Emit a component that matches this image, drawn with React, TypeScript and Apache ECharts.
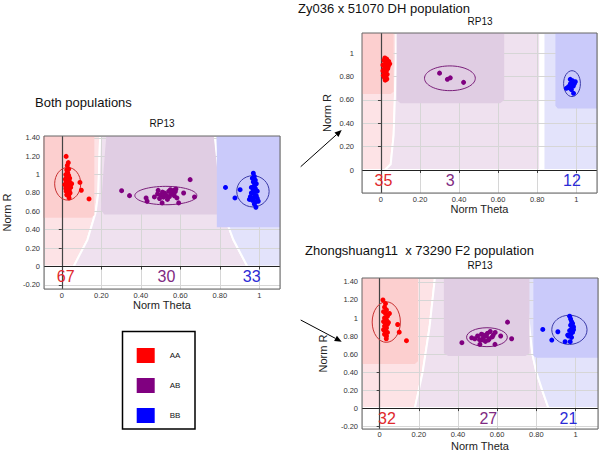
import React, { useEffect, useRef } from "react";
import * as echarts from "echarts";

const GENOTYPES = ["AA", "AB", "BB"];
const DOT_COLORS = ["#ff0000", "#800080", "#0000ff"];
const COUNT_COLORS = ["#e0282c", "#7f2a82", "#2b2bd6"];
const ELLIPSE_COLORS = ["#c83030", "#7a1f7a", "#3a3aa8"];
const FONT = "'Liberation Sans', Arial, sans-serif";

// ---- Both populations ----
const bothAA = [
  [0.022, 1.198], [0.033, 1.13], [0.028, 1.1], [0.035, 1.06], [0.025, 1.05], [0.03, 1.02], [0.02, 1.0],
  [0.035, 0.99], [0.025, 0.97], [0.04, 0.96], [0.018, 0.95], [0.03, 0.94], [0.022, 0.92], [0.04, 0.92],
  [0.028, 0.9], [0.015, 0.89], [0.035, 0.88], [0.025, 0.87], [0.045, 0.86], [0.02, 0.85], [0.03, 0.84],
  [0.038, 0.83], [0.022, 0.82], [0.03, 0.8], [0.042, 0.8], [0.025, 0.78], [0.035, 0.77], [0.037, 0.746],
  [0.092, 0.915], [0.099, 0.83], [0.138, 0.735], [0.05, 0.9],
];
const bothAB = [
  [0.303, 0.825], [0.343, 0.771], [0.427, 0.746], [0.432, 0.71], [0.469, 0.757], [0.488, 0.829],
  [0.508, 0.692], [0.519, 0.8], [0.532, 0.764], [0.541, 0.818], [0.553, 0.789], [0.566, 0.829],
  [0.578, 0.843], [0.583, 0.746], [0.592, 0.692], [0.65, 0.945], [0.672, 0.757], [0.5, 0.78],
  [0.51, 0.81], [0.525, 0.785], [0.545, 0.76], [0.56, 0.8], [0.57, 0.77], [0.495, 0.74], [0.535, 0.73],
  [0.55, 0.835], [0.515, 0.755], [0.575, 0.815], [0.485, 0.79], [0.617, 0.8],
];
const bothBB = [
  [0.829, 0.86], [0.877, 0.746], [0.903, 0.836], [0.97, 1.015], [0.975, 0.98], [0.965, 0.96], [0.98, 0.94],
  [0.97, 0.92], [0.985, 0.9], [0.975, 0.88], [0.96, 0.86], [0.98, 0.85], [0.97, 0.83], [0.99, 0.82],
  [0.96, 0.8], [0.975, 0.79], [0.985, 0.77], [0.955, 0.76], [0.97, 0.745], [0.99, 0.74], [0.965, 0.72],
  [0.98, 0.7], [0.995, 0.71], [0.975, 0.68], [0.983, 0.645], [0.95, 0.73],
];
const bothCounts = [67, 30, 33];
// [cx, cy, rx, ry, genotype index]
const bothEllipses = [
  [0.03, 0.9, 0.066, 0.178, 0],
  [0.527, 0.772, 0.157, 0.1, 1],
  [0.968, 0.818, 0.082, 0.17, 2],
];

// ---- Zy036 x 51070 DH population ----
const dhAA = [
  [0.02, 0.96], [0.03, 0.95], [0.015, 0.94], [0.04, 0.93], [0.025, 0.92], [0.045, 0.91], [0.01, 0.9],
  [0.03, 0.9], [0.02, 0.88], [0.035, 0.87], [0.015, 0.86], [0.028, 0.85], [0.02, 0.83], [0.032, 0.82],
  [0.012, 0.81], [0.025, 0.8], [0.018, 0.79], [0.03, 0.78], [0.022, 0.77], [0.038, 0.89], [0.01, 0.85],
];
const dhAB = [[0.3, 0.83], [0.34, 0.777], [0.355, 0.79], [0.423, 0.751]];
const dhBB = [
  [0.969, 0.777], [0.995, 0.757], [0.949, 0.7], [0.978, 0.73], [0.986, 0.657], [0.97, 0.74],
  [0.985, 0.72], [0.965, 0.705], [0.98, 0.765], [0.96, 0.715], [0.99, 0.74], [0.975, 0.69],
];
const dhCounts = [35, 3, 12];
const dhEllipses = [
  [0.353, 0.786, 0.13, 0.106, 1],
  [0.978, 0.74, 0.043, 0.111, 2],
];

// ---- Zhongshuang11 x 73290 F2 population ----
const f2AA = [
  [0.017, 1.2], [0.03, 1.16], [0.025, 1.12], [0.035, 1.09], [0.02, 1.07], [0.03, 1.05], [0.04, 1.02],
  [0.025, 1.0], [0.035, 0.98], [0.02, 0.96], [0.03, 0.94], [0.04, 0.93], [0.025, 0.91], [0.035, 0.89],
  [0.02, 0.87], [0.03, 0.85], [0.04, 0.84], [0.025, 0.82], [0.035, 0.8], [0.034, 0.77], [0.092, 0.928],
  [0.1, 0.843], [0.137, 0.748], [0.05, 1.05], [0.045, 0.95],
];
const f2AB = [
  [0.42, 0.726], [0.653, 0.954], [0.674, 0.77], [0.618, 0.8], [0.589, 0.707], [0.486, 0.77], [0.5, 0.8],
  [0.51, 0.76], [0.52, 0.82], [0.53, 0.78], [0.54, 0.74], [0.545, 0.8], [0.55, 0.83], [0.56, 0.77],
  [0.565, 0.85], [0.575, 0.79], [0.58, 0.81], [0.59, 0.84], [0.512, 0.707], [0.52, 0.755], [0.555, 0.755],
  [0.47, 0.78], [0.53, 0.81],
];
const f2BB = [
  [0.833, 0.873], [0.91, 0.847], [0.879, 0.755], [0.947, 0.737], [0.973, 0.737], [0.97, 1.02], [0.975, 0.99],
  [0.98, 0.96], [0.985, 0.94], [0.975, 0.92], [0.99, 0.9], [0.98, 0.88], [0.97, 0.86], [0.985, 0.84],
  [0.975, 0.82], [0.965, 0.8], [0.98, 0.785], [0.99, 0.87], [0.96, 0.81],
];
const f2Counts = [32, 27, 21];
const f2Ellipses = [
  [0.034, 0.955, 0.072, 0.225, 0],
  [0.548, 0.787, 0.104, 0.105, 1],
  [0.969, 0.869, 0.09, 0.162, 2],
];

// Cluster-call regions (Norm Theta, Norm R outlines)
const PALE = ["#fde3e6", "#efe1ef", "#e3e3fb"];
const DARK = ["#fccfcf", "#e0cde3", "#cacafa"];

const bothPale = [
  [[-0.3, 0], [0.06, 0], [0.13, 0.29], [0.171, 0.585], [0.185, 0.8], [0.197, 1.6], [-0.3, 1.6]],
  [[0.06, 0], [0.94, 0], [0.869, 0.29], [0.818, 0.585], [0.8, 0.8], [0.768, 1.6], [0.197, 1.6], [0.185, 0.8], [0.171, 0.585], [0.13, 0.29]],
  [[0.94, 0], [1.3, 0], [1.3, 1.6], [0.768, 1.6], [0.8, 0.8], [0.818, 0.585], [0.869, 0.29]],
];
const bothDark = [
  [[-0.3, 0.53], [0.15, 0.53], [0.165, 0.56], [0.165, 1.6], [-0.3, 1.6]],
  [[0.232, 1.6], [0.21, 1.0], [0.198, 0.62], [0.215, 0.565], [0.795, 0.565], [0.812, 0.6], [0.79, 1.0], [0.76, 1.6]],
  [[0.785, 0.427], [1.3, 0.427], [1.3, 1.6], [0.785, 1.6]],
];
const dhPale = [
  [[-0.3, 0], [0.02, 0], [0.05, 0.05], [0.065, 0.3], [0.075, 0.8], [0.082, 1.3], [-0.3, 1.3]],
  [[0.02, 0], [0.815, 0], [0.815, 1.3], [0.082, 1.3], [0.075, 0.8], [0.065, 0.3], [0.05, 0.05]],
  [[0.832, 0], [1.3, 0], [1.3, 1.3], [0.832, 1.3]],
];
const dhDark = [
  [[-0.3, 0.651], [0.05, 0.651], [0.065, 0.67], [0.065, 1.3], [-0.3, 1.3]],
  [[0.08, 1.3], [0.08, 0.6], [0.1, 0.571], [0.61, 0.571], [0.631, 0.6], [0.631, 1.3]],
  [[0.893, 1.3], [0.893, 0.55], [0.905, 0.528], [1.3, 0.528], [1.3, 1.3]],
];
const f2Pale = [
  [[-0.3, 0], [0.18, 0], [0.22, 0.4], [0.255, 0.9], [0.29, 1.6], [-0.3, 1.6]],
  [[0.18, 0], [0.862, 0], [0.83, 0.2], [0.8, 0.4], [0.78, 0.6], [0.76, 1.0], [0.74, 1.6], [0.29, 1.6], [0.255, 0.9], [0.22, 0.4]],
  [[0.862, 0], [1.3, 0], [1.3, 1.6], [0.74, 1.6], [0.76, 1.0], [0.78, 0.6], [0.8, 0.4], [0.83, 0.2]],
];
const f2Dark = [
  [[-0.3, 0.49], [0.18, 0.49], [0.196, 0.52], [0.196, 1.6], [-0.3, 1.6]],
  [[0.328, 1.6], [0.328, 0.61], [0.35, 0.578], [0.745, 0.578], [0.765, 0.61], [0.765, 1.6]],
  [[0.785, 1.6], [0.785, 0.58], [0.8, 0.56], [1.3, 0.56], [1.3, 1.6]],
];

const fmt = (v: number) => {
  const r = Math.round(v * 100) / 100;
  if (Object.is(r, -0) || r === 0) return "0";
  return Number.isInteger(r) ? String(r) : r.toFixed(2);
};

const panels = [
  {
    grid: { left: 43, top: 136, width: 237, height: 153 },
    x: [-0.09, 1.105], y: [-0.245, 1.42], ySplit: 8,
    points: [bothAA, bothAB, bothBB], ellipses: bothEllipses, counts: bothCounts,
    countX: [0.02, 0.53, 0.962], countY: -0.107,
    pale: bothPale, dark: bothDark,
    yNameGap: 32, xNameGap: 10, yLabelMargin: 4, xLabelMargin: 2,
  },
  {
    grid: { left: 362, top: 33, width: 235, height: 160 },
    x: [-0.097, 1.106], y: [-0.197, 1.174], ySplit: 7,
    points: [dhAA, dhAB, dhBB], ellipses: dhEllipses, counts: dhCounts,
    countX: [0.013, 0.355, 0.978], countY: -0.09,
    pale: dhPale, dark: dhDark,
    yNameGap: 30, xNameGap: 8, yLabelMargin: 8, xLabelMargin: 2,
  },
  {
    grid: { left: 362, top: 278, width: 236, height: 152 },
    x: [-0.09, 1.115], y: [-0.232, 1.444], ySplit: 8,
    points: [f2AA, f2AB, f2BB], ellipses: f2Ellipses, counts: f2Counts,
    countX: [0.037, 0.555, 0.964], countY: -0.114,
    pale: f2Pale, dark: f2Dark,
    yNameGap: 34, xNameGap: 11, yLabelMargin: 4, xLabelMargin: 1,
  },
];

function regionSeries(i: number, polys: number[][][], fills: string[], z: number, stroke: boolean) {
  return {
    type: "custom",
    xAxisIndex: i,
    yAxisIndex: i,
    z,
    silent: true,
    clip: true,
    data: polys.map((_, k) => [0.5, 0.5, k]),
    renderItem: (params: any, api: any) => {
      const pts = polys[params.dataIndex].map((p) => api.coord(p));
      return {
        type: "polygon",
        shape: { points: pts },
        style: stroke
          ? { fill: fills[params.dataIndex], stroke: "#ffffff", lineWidth: 2 }
          : { fill: fills[params.dataIndex] },
      };
    },
  };
}

function arrow(x1: number, y1: number, x2: number, y2: number) {
  const a = Math.atan2(y2 - y1, x2 - x1);
  const L = 7, W = 3;
  const bx = x2 - L * Math.cos(a), by = y2 - L * Math.sin(a);
  return [
    { type: "line", shape: { x1, y1, x2: bx, y2: by }, style: { stroke: "#000", lineWidth: 1 } },
    {
      type: "polygon",
      shape: { points: [[x2, y2], [bx + W * Math.sin(a), by - W * Math.cos(a)], [bx - W * Math.sin(a), by + W * Math.cos(a)]] },
      style: { fill: "#000" },
    },
  ];
}

function text(t: string, x: number, y: number, size: number, align = "center") {
  return {
    type: "text",
    x,
    y,
    style: { text: t, fontSize: size, fontFamily: FONT, fill: "#111", align, verticalAlign: "middle" },
  };
}

export default function App() {
  const ref = useRef<HTMLDivElement>(null);
  useEffect(() => {
    if (!ref.current) return;
    const chart = echarts.init(ref.current, undefined, { renderer: "svg" });
    const grids: any[] = [];
    const xAxes: any[] = [];
    const yAxes: any[] = [];
    const series: any[] = [];
    panels.forEach((p, i) => {
      grids.push({ ...p.grid, show: true, borderColor: "#666", borderWidth: 1, backgroundColor: "transparent", z: 10 });
      xAxes.push({
        type: "value", gridIndex: i, min: p.x[0], max: p.x[1], splitNumber: 6, z: 1,
        name: "Norm Theta", nameLocation: "middle", nameGap: p.xNameGap,
        nameTextStyle: { fontSize: 11, color: "#222", fontFamily: FONT, verticalAlign: "top" },
        axisLine: { show: false },
        axisTick: { show: true, length: 3, lineStyle: { color: "#444" } },
        axisLabel: { fontSize: 7.5, color: "#333", margin: p.xLabelMargin, showMinLabel: false, showMaxLabel: false, formatter: fmt, fontFamily: FONT },
        splitLine: { show: true, lineStyle: { color: "#d6d6d6", width: 1 } },
      });
      yAxes.push({
        type: "value", gridIndex: i, min: p.y[0], max: p.y[1], splitNumber: p.ySplit, z: 1,
        name: "Norm R", nameLocation: "middle", nameGap: p.yNameGap, nameRotate: 90,
        nameTextStyle: { fontSize: 11, color: "#222", fontFamily: FONT },
        axisLine: { show: false },
        axisTick: { show: true, length: 3, lineStyle: { color: "#444" } },
        axisLabel: { fontSize: 7.5, color: "#333", margin: p.yLabelMargin, showMinLabel: false, showMaxLabel: false, formatter: fmt, fontFamily: FONT },
        splitLine: { show: true, lineStyle: { color: "#d6d6d6", width: 1 } },
      });
      series.push(regionSeries(i, p.pale, PALE, 0, true));
      series.push(regionSeries(i, p.dark, DARK, 2, false));
      series.push({
        type: "line", xAxisIndex: i, yAxisIndex: i, data: [], z: 3, silent: true,
        markLine: {
          silent: true, symbol: ["none", "none"], z: 3, animation: false,
          label: { show: false },
          data: [
            { xAxis: 0, lineStyle: { color: "#444", width: 1.2, type: "solid" } },
            { yAxis: 0, lineStyle: { color: "#222", width: 1, type: "solid" } },
          ],
        },
      });
      series.push({
        type: "custom", xAxisIndex: i, yAxisIndex: i, z: 4, silent: true, clip: true,
        data: p.ellipses,
        renderItem: (params: any, api: any) => {
          const c = api.coord([api.value(0), api.value(1)]);
          const s = api.size([api.value(2), api.value(3)]);
          return {
            type: "ellipse",
            shape: { cx: c[0], cy: c[1], rx: s[0], ry: s[1] },
            style: { fill: "none", stroke: ELLIPSE_COLORS[api.value(4)], lineWidth: 1 },
          };
        },
      });
      p.points.forEach((pts, k) => {
        series.push({
          type: "scatter", name: GENOTYPES[k], xAxisIndex: i, yAxisIndex: i, z: 5,
          symbolSize: 5, data: pts, itemStyle: { color: DOT_COLORS[k], opacity: 1 },
        });
      });
      series.push({
        type: "custom", xAxisIndex: i, yAxisIndex: i, z: 6, silent: true,
        data: p.counts.map((c, k) => [p.countX[k], p.countY, c, k]),
        renderItem: (params: any, api: any) => {
          const c = api.coord([api.value(0), api.value(1)]);
          return {
            type: "text",
            x: c[0],
            y: c[1],
            style: {
              text: String(api.value(2)), fill: COUNT_COLORS[api.value(3)], fontSize: 16,
              fontFamily: FONT, align: "center", verticalAlign: "middle",
            },
          };
        },
      });
    });

    chart.setOption({
      animation: false,
      backgroundColor: "#ffffff",
      textStyle: { fontFamily: FONT },
      grid: grids,
      xAxis: xAxes,
      yAxis: yAxes,
      series,
      legend: {
        data: GENOTYPES, orient: "vertical", left: 131.7, top: 343, itemWidth: 18, itemHeight: 15,
        itemGap: 15, icon: "rect", selectedMode: false,
        textStyle: { fontSize: 8, color: "#111", padding: [0, 0, 0, 10], fontFamily: FONT },
      },
      graphic: [
        text("Both populations", 35, 102, 13, "left"),
        text("RP13", 162, 123, 10),
        text("Zy036 x 51070 DH population", 298, 8, 13, "left"),
        text("RP13", 480, 21, 10),
        text("Zhongshuang11  x 73290 F2 population", 305, 250, 13, "left"),
        text("RP13", 480, 265, 10),
        { type: "rect", shape: { x: 122.5, y: 331.5, width: 72.5, height: 97.5 }, style: { fill: "none", stroke: "#000", lineWidth: 1.5 } },
        ...arrow(300.7, 166.7, 341.7, 130),
        ...arrow(300.7, 320, 341.7, 341.7),
      ],
    });
    return () => chart.dispose();
  }, []);
  return <div ref={ref} style={{ position: "fixed", left: 0, top: 0, width: 600, height: 452 }} />;
}
